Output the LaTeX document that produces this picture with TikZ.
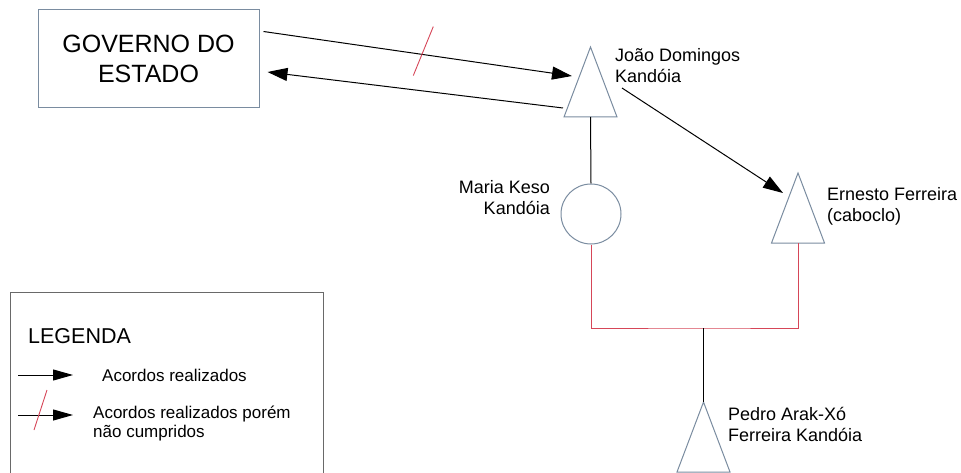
\documentclass[tikz,border=0pt]{standalone}
\usepackage{fontspec}
\setmainfont{Liberation Sans}
\usetikzlibrary{arrows.meta,calc}

\definecolor{shapeline}{RGB}{122,140,160}
\definecolor{kinred}{RGB}{214,70,88}
\definecolor{legendline}{RGB}{105,105,105}

\tikzset{
  figure/.style={draw=shapeline, line width=1pt, fill=white},
  agree/.style={draw=black, line width=1pt, -{Triangle[length=20pt,width=13pt]}},
  legarrow/.style={draw=black, line width=1pt, -{Triangle[length=20pt,width=11pt]}},
  kin/.style={draw=black, line width=1pt},
  marriage/.style={draw=kinred, line width=1pt},
  broken/.style={draw=kinred, line width=0.9pt},
  label/.style={font=\fontsize{18}{21}\selectfont, inner sep=0pt},
  legtext/.style={font=\fontsize{17}{19.5}\selectfont, inner sep=0pt},
}

\begin{document}
\begin{tikzpicture}[x=1pt,y=-1pt]
\useasboundingbox (0,0) rectangle (961,473);

% state government
\node[figure, minimum width=221pt, minimum height=98pt, inner sep=0pt,
      align=center, font=\fontsize{25}{30}\selectfont] (gov) at (148.5,59)
      {GOVERNO DO\\ESTADO};

% base centres of the male (triangle) figures
\coordinate (joao) at (590.5,117);
\coordinate (ernesto) at (798,243);
\coordinate (pedro) at (703.5,472);
\foreach \p in {joao,ernesto,pedro}
  \draw[figure] ($(\p)+(-26.5,0)$) -- ($(\p)+(0,-70)$) -- ($(\p)+(26.5,0)$) -- cycle;

% female figure
\node[figure, circle, minimum size=60pt, inner sep=0pt] (maria) at (591,214) {};

% names
\node[label, anchor=base west] (joaolbl) at (615,61.5)
  {\begin{tabular}[t]{@{}l@{}}João Domingos\\Kandóia\end{tabular}};
\node[label, anchor=base east] (marialbl) at (550,193.5)
  {\begin{tabular}[t]{@{}r@{}}Maria Keso\\Kandóia\end{tabular}};
\node[label, anchor=base west] (ernestolbl) at (827,200.5)
  {\begin{tabular}[t]{@{}l@{}}Ernesto Ferreira\\(caboclo)\end{tabular}};
\node[label, anchor=base west] (pedrolbl) at (728,420)
  {\begin{tabular}[t]{@{}l@{}}Pedro Arak-Xó\\Ferreira Kandóia\end{tabular}};

% agreements
\draw[agree] ($(gov.north east)+(4,22)$) -- coordinate[pos=0.518] (cut) ($(joao)+(-18.5,-41)$);
\draw[broken] ($(cut)+(10,-28)$) -- ($(cut)+(-10,21)$);
\draw[agree] ($(joao)+(-27.5,-9)$) -- ($(gov.east)+(8,13)$);
\draw[agree] ($(joao)+(31.5,-29)$) -- ($(ernesto)+(-15,-50)$);

% kinship
\draw[kin] (joao) -- (maria.north);
\coordinate (union) at (703.5,328);
\draw[marriage] (maria.south) |- (union) -| (ernesto);
\draw[kin] (union) -- ($(pedro)+(0,-70)$);

% legend
\draw[legendline, line width=1pt] (10,480) |- (323,292) -- (323,480);
\node[inner sep=0pt, anchor=base west, font=\fontsize{21.5}{24}\selectfont] (legtitle) at (28,343) {LEGENDA};

\coordinate (la1) at (18,375);
\coordinate (la2) at (73,375);
\draw[legarrow] (la1) -- (la2);
\node[legtext, anchor=base west] (legok) at (102,381) {Acordos realizados};

\coordinate (lb1) at (18,415);
\coordinate (lb2) at (73,415);
\draw[legarrow] (lb1) -- (lb2);
\draw[broken] (47,390) -- (34,430);
\node[legtext, anchor=base west] (legbroken) at (93,418)
  {\begin{tabular}[t]{@{}l@{}}Acordos realizados porém\\não cumpridos\end{tabular}};
\end{tikzpicture}
\end{document}
